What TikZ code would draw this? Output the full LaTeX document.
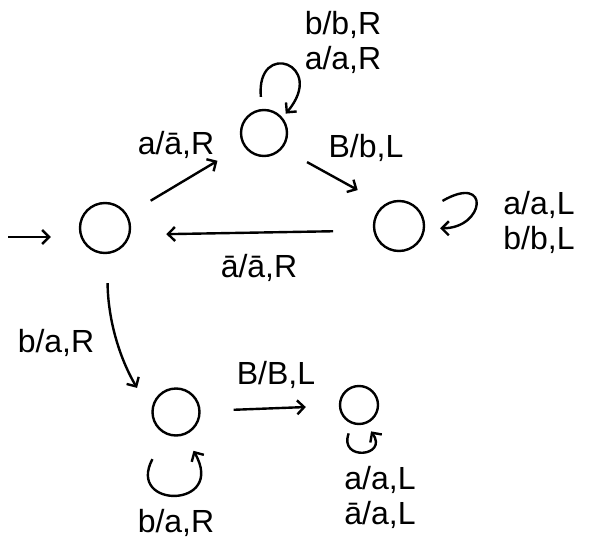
\documentclass[tikz,border=0pt]{standalone}
\usepackage{fontspec}
\setmainfont{Liberation Sans}
\usetikzlibrary{arrows.meta}

\tikzstyle{st} = [circle, draw, line width=2.4pt, inner sep=0pt]
\tikzstyle{tr} = [line width=2.4pt, -{Straight Barb[length=7pt,width=14pt]}]
\tikzstyle{lbl} = [font=\fontsize{32}{35}\selectfont, align=center, inner sep=1pt]

\begin{document}
\begin{tikzpicture}[x=1pt, y=1pt]
    \useasboundingbox (0,0) rectangle (593,547);
    % states
    \node[st, minimum size=50pt] (q0) at (105,319) {};
    \node[st, minimum size=46pt] (q1) at (264,414) {};
    \node[st, minimum size=50pt] (q2) at (399,321) {};
    \node[st, minimum size=47pt] (q3) at (176,135) {};
    \node[st, minimum size=38pt] (q4) at (359,142) {};
    \coordinate (init) at (8,310);
    % transitions
    \draw[tr, shorten >=28pt] (init) -- (init -| q0.west);
    \draw[tr, shorten <=27pt, shorten >=30pt] (q0) -- (q1);
    \draw[tr, shorten <=28pt, shorten >=30pt] (q1.-40) -- (q2.125);
    \draw[tr, shorten <=40pt, shorten >=36pt] (q2.190) -- (q0.-15);
    \draw[tr, shorten <=29pt, shorten >=28pt] (q0.-85) to[bend right=15] (q3.180);
    \draw[tr, shorten <=33pt, shorten >=33pt] (q3) -- (q4);
    % loops
    \draw[tr, shorten <=12pt, shorten >=5pt] (q1.95)
      .. controls +(95:70) and +(50:70) .. (q1.40);
    \draw[tr, shorten <=24pt, shorten >=15pt] (q2.30)
      .. controls +(30:80) and +(0:60) .. (q2.-5);
    \draw[tr, shorten <=28pt, shorten >=18pt] (q3.-115)
      .. controls +(-118:85) and +(-60:85) .. (q3.-70);
    \draw[tr, shorten <=10pt, shorten >=9pt] (q4.-110)
      .. controls +(-110:40) and +(-55:40) .. (q4.-70);
    % labels
    \node[lbl] (l11) at (343,505) {b/b,R\\a/a,R};
    \node[lbl] (l01) at (176,402) {a/ā,R};
    \node[lbl] (l12) at (366,399) {B/b,L};
    \node[lbl] (l22) at (539,325) {a/a,L\\b/b,L};
    \node[lbl] (l20) at (259,279) {ā/ā,R};
    \node[lbl] (l03) at (56,204) {b/a,R};
    \node[lbl] (l34) at (276,172) {B/B,L};
    \node[lbl] (l33) at (176,24) {b/a,R};
    \node[lbl] (l44) at (380,50) {a/a,L\\ā/a,L};
\end{tikzpicture}
\end{document}
